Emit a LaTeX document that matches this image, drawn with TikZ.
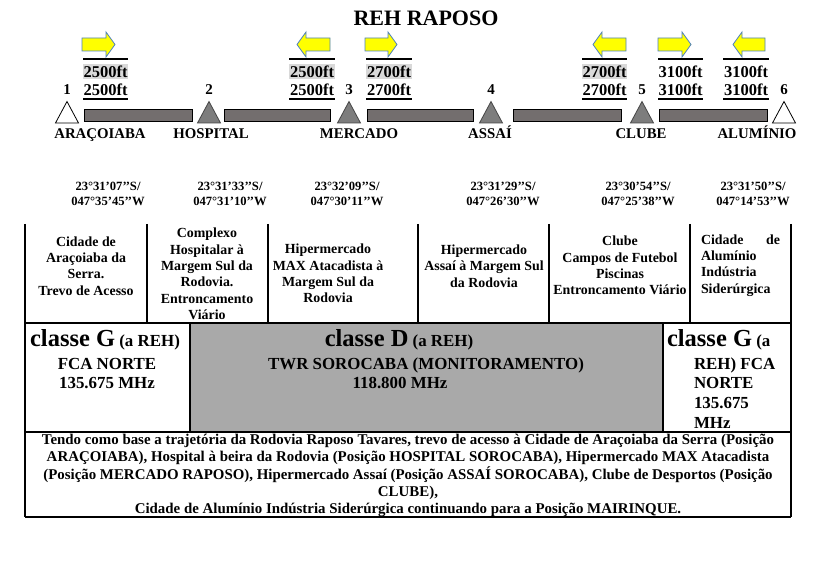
\documentclass[tikz,border=0pt]{standalone}
\usepackage{fontspec}
\setmainfont{Liberation Serif}
\definecolor{bargray}{RGB}{115,110,110}
\definecolor{trigray}{RGB}{125,125,125}
\definecolor{triedge}{RGB}{70,70,70}
\definecolor{cellgray}{RGB}{169,169,169}
\definecolor{hlgray}{RGB}{217,217,217}
\definecolor{arrowedge}{RGB}{79,129,189}
\definecolor{arrowfill}{RGB}{255,255,0}
\begin{document}
\begin{tikzpicture}[x=1pt,y=-1pt,
  tx/.style={inner sep=0pt,outer sep=0pt,align=center},
  bar/.style={fill=bargray,draw=black,line width=0.8pt},
  trig/.style={fill=trigray,draw=triedge,line width=0.8pt},
  triw/.style={fill=white,draw=black,line width=0.8pt},
  yarrow/.style={fill=arrowfill,draw=arrowedge,line width=0.8pt,line join=miter},
  tbl/.style={draw=black,line width=1.3pt},
  numf/.style={tx,font=\fontsize{15}{18}\selectfont\bfseries},
  namef/.style={tx,anchor=base,font=\fontsize{14.8}{17}\selectfont\bfseries},
  altf/.style={tx,font=\fontsize{16.5}{19}\selectfont\bfseries},
  coordf/.style={tx,font=\fontsize{12.6}{15}\selectfont\bfseries},
  descf/.style={tx,font=\fontsize{13.9}{16.4}\selectfont\bfseries},
  cellf/.style={tx,font=\fontsize{16.9}{19.5}\selectfont\bfseries},
  botf/.style={tx,font=\fontsize{14.9}{17.2}\selectfont\bfseries}]
\useasboundingbox (0,0) rectangle (814,561);
\fill[white] (0,0) rectangle (814,561);

% title
\node[tx,font=\fontsize{22}{26}\selectfont\bfseries] (title) at (426,18) {REH RAPOSO};

% bars
\draw[bar] (84,109) rectangle (192,121);
\draw[bar] (224,109) rectangle (330,121);
\draw[bar] (367,109) rectangle (473,121);
\draw[bar] (513,109) rectangle (621,121);
\draw[bar] (659,109) rectangle (767,121);

% triangles
\draw[triw] (67,101.5) -- (78.5,123) -- (55.5,123) -- cycle;
\draw[trig] (209,101.5) -- (220.5,123) -- (197.5,123) -- cycle;
\draw[trig] (349,101.5) -- (360.5,123) -- (337.5,123) -- cycle;
\draw[trig] (491,101.5) -- (502.5,123) -- (479.5,123) -- cycle;
\draw[trig] (642,101.5) -- (653.5,123) -- (630.5,123) -- cycle;
\draw[triw] (784,101.5) -- (795.5,123) -- (772.5,123) -- cycle;

% numbers
\node[numf] (n1) at (67,90) {1};
\node[numf] (n2) at (209,90) {2};
\node[numf] (n3) at (349,90) {3};
\node[numf] (n4) at (491,90) {4};
\node[numf] (n5) at (642,90) {5};
\node[numf] (n6) at (784,90) {6};

% names
\node[namef] (p1) at (100,139) {ARAÇOIABA};
\node[namef] (p2) at (211,139) {HOSPITAL};
\node[namef] (p3) at (359,139) {MERCADO};
\node[namef] (p4) at (490,139) {ASSAÍ};
\node[namef] (p5) at (641,139) {CLUBE};
\node[namef] (p6) at (757,139) {ALUMÍNIO};

% yellow arrows (right)
\foreach \a/\b/\c in {82/106/115, 365/388/397, 658/682/691}{
  \draw[yarrow] (\a,38) -- (\b,38) -- (\b,32) -- (\c,44.5) -- (\b,57) -- (\b,51) -- (\a,51) -- cycle;
}
% yellow arrows (left)
\foreach \a/\b/\c in {330/306/297, 626/602/593, 765/742/733}{
  \draw[yarrow] (\a,38) -- (\b,38) -- (\b,32) -- (\c,44.5) -- (\b,57) -- (\b,51) -- (\a,51) -- cycle;
}

% altitude blocks
\foreach \x/\y in {83/128, 289/335, 366/412, 582/627}{
  \fill[hlgray] (\x,64) rectangle (\y,79.5);
}
\foreach \x/\y in {83/128, 289/335, 366/412, 582/627, 658/703, 723/769}{
  \draw[black,line width=2pt] (\x,59) -- (\y,59);
  \draw[black,line width=2pt] (\x,99) -- (\y,99);
}
\node[altf] (a1u) at (105.5,72) {2500ft};
\node[altf] (a1l) at (105.5,90) {2500ft};
\node[altf] (a2u) at (312,72) {2500ft};
\node[altf] (a2l) at (312,90) {2500ft};
\node[altf] (a3u) at (389,72) {2700ft};
\node[altf] (a3l) at (389,90) {2700ft};
\node[altf] (a4u) at (604.5,72) {2700ft};
\node[altf] (a4l) at (604.5,90) {2700ft};
\node[altf] (a5u) at (680.5,72) {3100ft};
\node[altf] (a5l) at (680.5,90) {3100ft};
\node[altf] (a6u) at (746,72) {3100ft};
\node[altf] (a6l) at (746,90) {3100ft};

% coordinates
\node[coordf] (c1) at (108,193.5) {23°31’07’’S/\\047°35’45’’W};
\node[coordf] (c2) at (230,193.5) {23°31’33’’S/\\047°31’10’’W};
\node[coordf] (c3) at (347,193.5) {23°32’09’’S/\\047°30’11’’W};
\node[coordf] (c4) at (503,193.5) {23°31’29’’S/\\047°26’30’’W};
\node[coordf] (c5) at (638,193.5) {23°30’54’’S/\\047°25’38’’W};
\node[coordf] (c6) at (753,193.5) {23°31’50’’S/\\047°14’53’’W};

% table
\fill[cellgray] (190,323) rectangle (663,432);
\draw[tbl] (25,224) -- (25,517);
\draw[tbl] (791,224) -- (791,517);
\draw[tbl] (25,323) -- (791,323);
\draw[tbl] (25,432) -- (791,432);
\draw[tbl] (25,517) -- (791,517);
\foreach \x in {147,268,418,549,690}{\draw[tbl] (\x,224) -- (\x,323);}
\foreach \x in {190,663}{\draw[tbl] (\x,323) -- (\x,432);}

% descriptions
\node[descf] (d1) at (86,266) {Cidade de\\Araçoiaba da\\Serra.\\Trevo de Acesso};
\node[descf] (d2) at (207,274) {Complexo\\Hospitalar à\\Margem Sul da\\Rodovia.\\Entroncamento\\Viário};
\node[descf] (d3) at (328,273.5) {Hipermercado\\MAX Atacadista à\\Margem Sul da\\Rodovia};
\node[descf] (d4) at (484,266) {Hipermercado\\Assaí à Margem Sul\\da Rodovia};
\node[descf] (d5) at (620,265.5) {Clube\\Campos de Futebol\\Piscinas\\Entroncamento Viário};
\node[descf,align=left,anchor=west] (d6) at (701,265.5) {\hbox to 79pt{Cidade\hfill de}\\Alumínio\\Indústria\\Siderúrgica};

% class cells
\node[cellf,anchor=base] (g1) at (105,347) {{\fontsize{24.5}{26}\selectfont classe G} (a REH)};
\node[cellf,anchor=base] (g1b) at (107,369) {FCA NORTE};
\node[cellf,anchor=base] (g1c) at (107,388) {135.675 MHz};
\node[cellf,anchor=base] (dd1) at (399,347) {{\fontsize{24.5}{26}\selectfont classe D} (a REH)};
\node[cellf,anchor=base] (dd2) at (426,369) {TWR SOROCABA (MONITORAMENTO)};
\node[cellf,anchor=base] (dd3) at (400,388) {118.800 MHz};
\node[cellf,anchor=base west] (g2) at (667,347) {{\fontsize{24.5}{26}\selectfont classe G} (a};
\node[cellf,anchor=base west] (g2b) at (694,369) {REH) FCA};
\node[cellf,anchor=base west] (g2c) at (694,388) {NORTE};
\node[cellf,anchor=base west] (g2d) at (694,408) {135.675};
\node[cellf,anchor=base west] (g2e) at (694,428) {MHz};

% bottom text
\node[botf] (bt) at (408,475.5) {Tendo como base a trajetória da Rodovia Raposo Tavares, trevo de acesso à Cidade de Araçoiaba da Serra (Posição\\ARAÇOIABA), Hospital à beira da Rodovia (Posição HOSPITAL SOROCABA), Hipermercado MAX Atacadista\\(Posição MERCADO RAPOSO), Hipermercado Assaí (Posição ASSAÍ SOROCABA), Clube de Desportos (Posição\\CLUBE),\\Cidade de Alumínio Indústria Siderúrgica continuando para a Posição MAIRINQUE.};
\end{tikzpicture}
\end{document}
